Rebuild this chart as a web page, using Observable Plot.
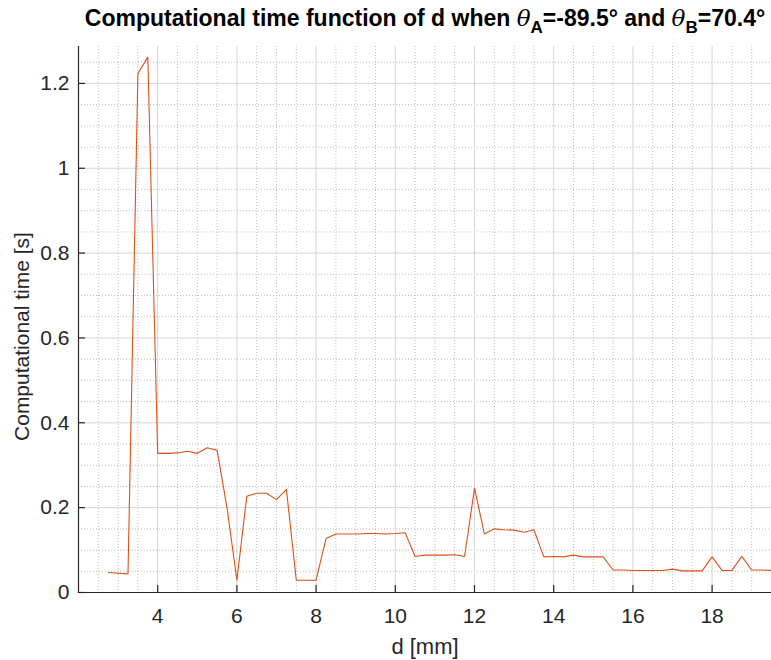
<!DOCTYPE html>
<html>
<head>
<meta charset="utf-8">
<script src="https://cdn.jsdelivr.net/npm/d3@7"></script>
<script src="https://cdn.jsdelivr.net/npm/@observablehq/plot@0.6"></script>
<style>
  html, body { margin: 0; padding: 0; background: #fff; }
  #wrap { position: relative; width: 771px; height: 660px; overflow: hidden; }
  #title { position: absolute; left: 0; top: 5px; width: 850px; text-align: center;
           font-family: "Liberation Sans", Arial, sans-serif; font-weight: bold; font-size: 23px; color: #000; white-space: nowrap; }
  #title i { font-family: "DejaVu Serif", serif; font-weight: normal; font-style: italic; }
  #title sub { font-size: 17px; vertical-align: -7px; line-height: 0; }
</style>
</head>
<body>
<div id="wrap">
  <div id="title">Computational time function of d when <i>θ</i><sub>A</sub>=-89.5° and <i>θ</i><sub>B</sub>=70.4°</div>
</div>
<script>
const dValues = [2.75, 3.25, 3.5, 3.75, 4.0, 4.25, 4.5, 4.75, 5.0, 5.25, 5.5, 5.75, 6.0, 6.25, 6.5, 6.75, 7.0, 7.25, 7.5, 7.75, 8.0,
  8.25, 8.5, 8.75, 9.0, 9.25, 9.5, 9.75, 10.0, 10.25, 10.5, 10.75, 11.0, 11.25, 11.5, 11.75, 12.0, 12.25, 12.5, 12.75, 13.0,
  13.25, 13.5, 13.75, 14.0, 14.25, 14.5, 14.75, 15.0, 15.25, 15.5, 15.75, 16.0, 16.25, 16.5, 16.75, 17.0, 17.25, 17.5, 17.75,
  18.0, 18.25, 18.5, 18.75, 19.0, 19.25, 19.5];
const timeValues = [0.047, 0.044, 1.223, 1.262, 0.328, 0.328, 0.329, 0.333, 0.328, 0.341, 0.335, 0.200, 0.029, 0.227, 0.234, 0.234, 0.219, 0.243, 0.029, 0.029, 0.029,
  0.127, 0.138, 0.138, 0.138, 0.139, 0.139, 0.138, 0.139, 0.141, 0.085, 0.088, 0.088, 0.088, 0.089, 0.085, 0.246, 0.138, 0.150, 0.148, 0.147,
  0.142, 0.148, 0.084, 0.085, 0.084, 0.088, 0.084, 0.084, 0.084, 0.053, 0.053, 0.052, 0.052, 0.052, 0.052, 0.055, 0.051, 0.051, 0.051,
  0.084, 0.052, 0.052, 0.085, 0.053, 0.053, 0.052];
const xTicks = [4, 6, 8, 10, 12, 14, 16, 18];
const yTicks = [0, 0.2, 0.4, 0.6, 0.8, 1, 1.2];
const xMinor = d3.range(2.5, 19.5, 0.5).filter(v => v % 2 !== 0);
const yMinor = d3.range(0.05, 1.29, 0.05).filter(v => Math.abs(v / 0.2 - Math.round(v / 0.2)) > 1e-6);
const xLabel = "d [mm]";
const yLabel = "Computational time [s]";

const data = dValues.map((d, i) => ({d, t: timeValues[i]}));

const W = 771, H = 660, mL = 78, mR = 0, mT = 46, mB = 68;
const innerW = W - mL - mR, innerH = H - mT - mB;
const axisColor = "#262626";
const font = "'Liberation Sans', Arial, sans-serif";

const chart = Plot.plot({
  width: W, height: H,
  marginLeft: mL, marginRight: mR, marginTop: mT, marginBottom: mB,
  style: {fontFamily: font, background: "#fff", overflow: "visible"},
  x: {domain: [2, 19.5]},
  y: {domain: [0, 1.287]},
  marks: [
    Plot.gridX(xMinor, {stroke: "#bdbdbd", strokeOpacity: 1, strokeDasharray: "1,2", strokeWidth: 1}),
    Plot.gridY(yMinor, {stroke: "#bdbdbd", strokeOpacity: 1, strokeDasharray: "1,2", strokeWidth: 1}),
    Plot.gridX(xTicks, {stroke: "#d6d6d6", strokeOpacity: 1, strokeWidth: 1}),
    Plot.gridY(yTicks, {stroke: "#d6d6d6", strokeOpacity: 1, strokeWidth: 1}),
    Plot.line(data, {x: "d", y: "t", stroke: "#D95319", strokeWidth: 1.1, clip: true}),
    Plot.frame({anchor: "left", stroke: axisColor, strokeWidth: 1.2}),
    Plot.frame({anchor: "bottom", stroke: axisColor, strokeWidth: 1.2}),
    Plot.tickX(xTicks, {x: d => d, stroke: axisColor, strokeWidth: 1.2, insetTop: innerH - 7}),
    Plot.tickY(yTicks, {y: d => d, stroke: axisColor, strokeWidth: 1.2, insetRight: innerW - 7}),
    Plot.axisX(xTicks, {tickSize: 0, tickPadding: 16, fontSize: 21, fill: axisColor, label: null, tickFormat: d => String(d)}),
    Plot.axisY(yTicks, {tickSize: 0, tickPadding: 9, fontSize: 21, fill: axisColor, label: null, tickFormat: d => String(d)}),
    Plot.text([xLabel], {frameAnchor: "bottom", dy: 61, fontSize: 22, fill: axisColor, text: d => d}),
    Plot.text([yLabel], {frameAnchor: "left", textAnchor: "middle", dx: -56, dy: 17, rotate: -90, fontSize: 21, fill: axisColor, text: d => d})
  ]
});
document.getElementById("wrap").prepend(chart);
</script>
</body>
</html>
